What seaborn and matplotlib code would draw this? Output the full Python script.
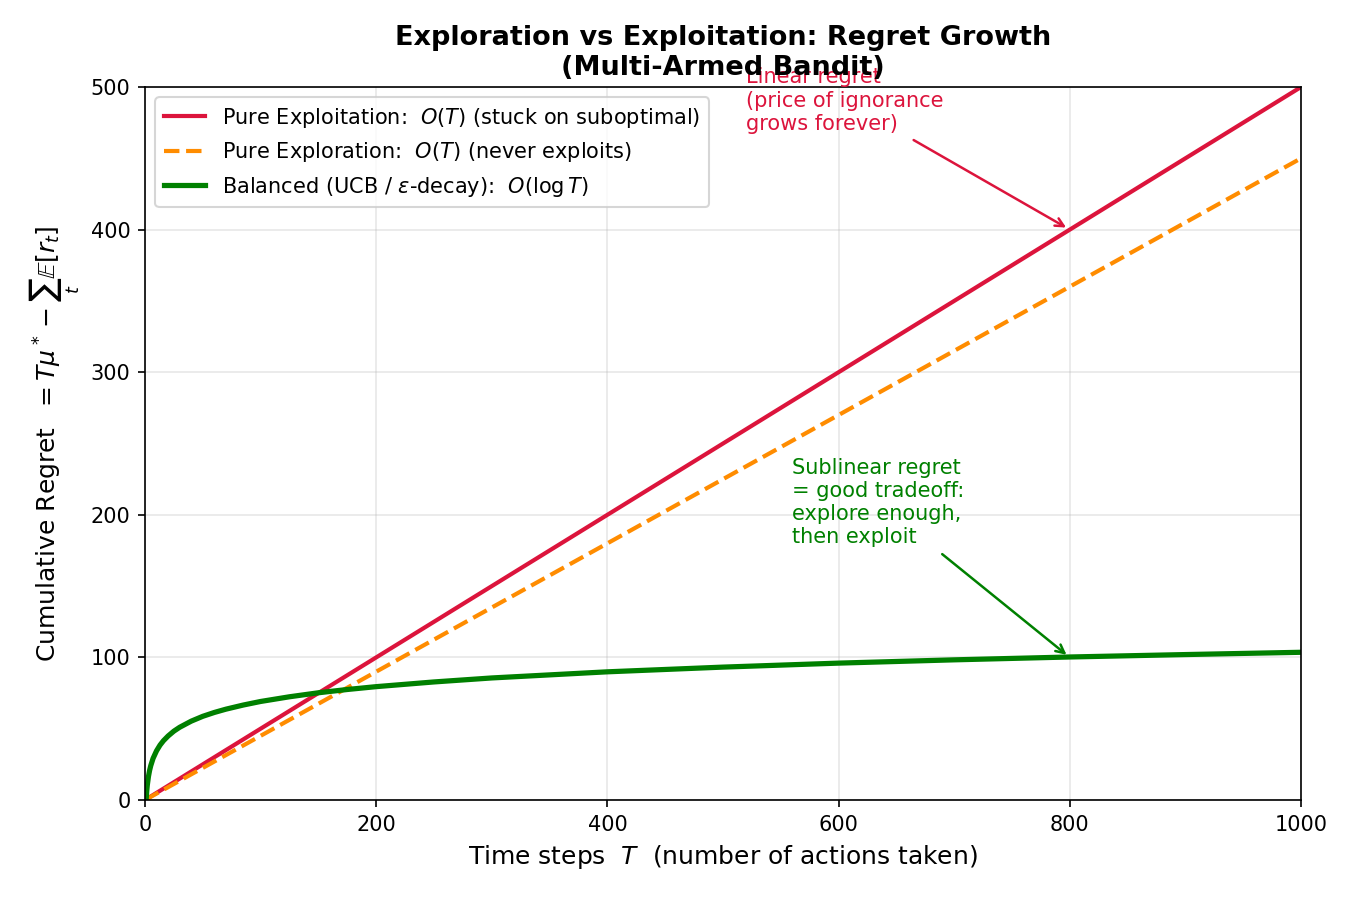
import numpy as np
import pandas as pd
import matplotlib
matplotlib.use("Agg")
import matplotlib.pyplot as plt
import seaborn as sns

# linear strategies: endpoints
t_linear = [0, 1000]
regret_exploit = [0, 500]
regret_explore = [0, 450]

# balanced strategy, values
t_balanced = [1, 1.5, 2, 3, 4, 5, 7, 10, 13, 16, 20, 25, 30, 40, 50, 60, 70,
              85, 100, 125, 150, 175, 200, 250, 300, 400, 500, 600, 700, 800,
              900, 1000]
regret_balanced = [0, 6.1, 10.4, 16.5, 20.8, 24.1, 29.2, 34.5, 38.5, 41.6,
                   44.9, 48.3, 51.0, 55.3, 58.7, 61.4, 63.7, 66.6, 69.1, 72.4,
                   75.2, 77.5, 79.5, 82.8, 85.6, 89.9, 93.2, 96.0, 98.3,
                   100.3, 102.0, 103.6]

labels = [r'Pure Exploitation:  $O(T)$ (stuck on suboptimal)',
          r'Pure Exploration:  $O(T)$ (never exploits)',
          r'Balanced (UCB / $\varepsilon$-decay):  $O(\log T)$']

fig, ax = plt.subplots(figsize=(9, 6), dpi=150)

sns.lineplot(x=t_linear, y=regret_exploit, ax=ax, color='crimson', lw=2,
             label=labels[0])
sns.lineplot(x=t_linear, y=regret_explore, ax=ax, color='darkorange', lw=2,
             linestyle='--', label=labels[1])
sns.lineplot(x=t_balanced, y=regret_balanced, ax=ax, color='green', lw=2.5,
             label=labels[2])

ax.set_xlim(0, 1000)
ax.set_ylim(0, 500)
ax.grid(True, alpha=0.3)

ax.annotate('Linear regret\n(price of ignorance\ngrows forever)',
            xy=(800, 400), xytext=(520, 470), fontsize=10, color='crimson',
            arrowprops=dict(arrowstyle='->', color='crimson', lw=1.2))
ax.annotate('Sublinear regret\n= good tradeoff:\nexplore enough,\nthen exploit',
            xy=(800, 100), xytext=(560, 180), fontsize=10, color='green',
            arrowprops=dict(arrowstyle='->', color='green', lw=1.2))

ax.set_xlabel(r'Time steps  $T$  (number of actions taken)', fontsize=12)
ax.set_ylabel(r'Cumulative Regret  $= T\mu^* - \sum_t \mathbb{E}[r_t]$', fontsize=12)
ax.set_title('Exploration vs Exploitation: Regret Growth\n(Multi-Armed Bandit)',
             fontsize=13, fontweight='bold')
ax.legend(loc='upper left', fontsize=10)

fig.subplots_adjust(left=0.1074, right=0.9637, top=0.9033, bottom=0.1111)
plt.savefig('out.png', dpi=150)
